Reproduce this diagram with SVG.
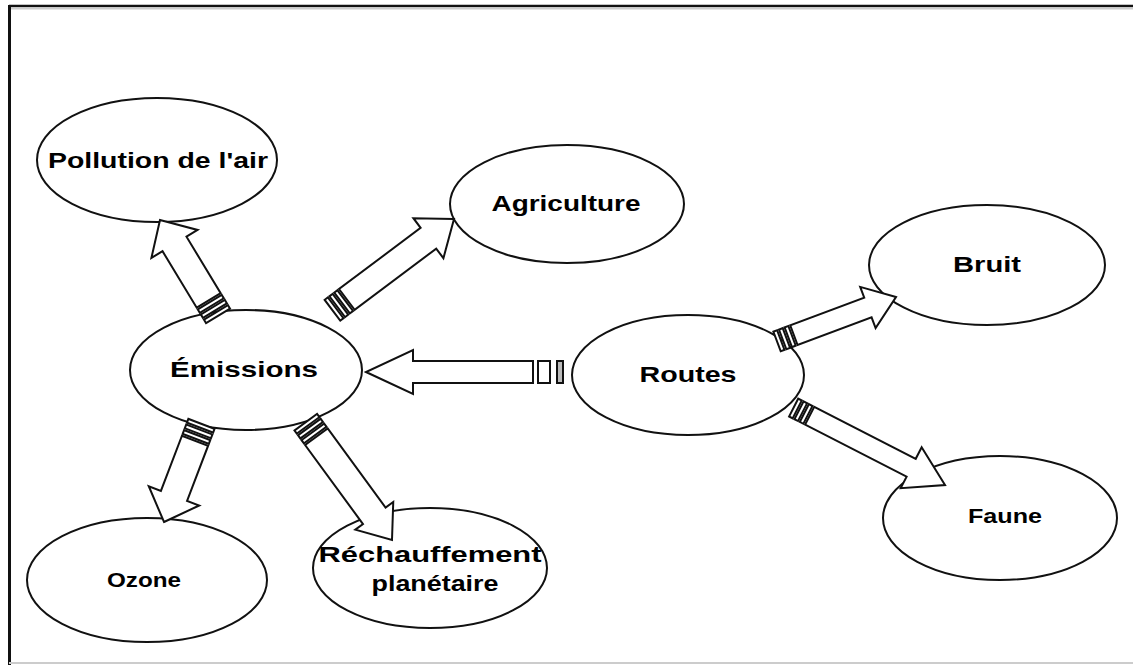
<svg xmlns="http://www.w3.org/2000/svg" width="1133" height="665" viewBox="0 0 1133 665">
<style>
.node ellipse{fill:#fff;stroke:#111;stroke-width:2}
.node text{font-family:"Liberation Sans",Arial,sans-serif;font-weight:bold;font-size:22px;fill:#000;text-anchor:middle}
.node text.s{font-size:21px}
.arr path,.arr rect{fill:#fff;stroke:#111;stroke-width:2;stroke-linejoin:miter}
.arr rect.g{fill:#bbb}
</style>
<rect x="0" y="0" width="1133" height="665" fill="#fff"/>
<g id="frame">
<line x1="9" y1="6" x2="1133" y2="6" stroke="#111" stroke-width="2.5"/>
<line x1="9" y1="8.5" x2="1133" y2="8.5" stroke="#ccc" stroke-width="2"/>
<line x1="9.5" y1="5" x2="9.5" y2="665" stroke="#111" stroke-width="3"/>
<line x1="9" y1="663" x2="1133" y2="663" stroke="#ccc" stroke-width="2"/>
</g>
<g id="node-pollution" class="node"><ellipse cx="157" cy="160" rx="120" ry="62"/><text x="158" y="168" textLength="220" lengthAdjust="spacingAndGlyphs">Pollution de l'air</text></g>
<g id="node-agriculture" class="node"><ellipse cx="567" cy="204" rx="117" ry="59"/><text x="566" y="211" textLength="149" lengthAdjust="spacingAndGlyphs">Agriculture</text></g>
<g id="node-emissions" class="node"><ellipse cx="246" cy="370" rx="116" ry="60"/><text x="244" y="377" textLength="148" lengthAdjust="spacingAndGlyphs">Émissions</text></g>
<g id="node-routes" class="node"><ellipse cx="688" cy="375" rx="116" ry="60"/><text x="688" y="382" textLength="97" lengthAdjust="spacingAndGlyphs">Routes</text></g>
<g id="node-bruit" class="node"><ellipse cx="987" cy="265" rx="118" ry="60"/><text x="987" y="272" textLength="68" lengthAdjust="spacingAndGlyphs">Bruit</text></g>
<g id="node-faune" class="node"><ellipse cx="1000" cy="518" rx="117" ry="62"/><text class="s" x="1005" y="523" textLength="74" lengthAdjust="spacingAndGlyphs">Faune</text></g>
<g id="node-ozone" class="node"><ellipse cx="147" cy="580" rx="120" ry="62"/><text class="s" x="144" y="587" textLength="74" lengthAdjust="spacingAndGlyphs">Ozone</text></g>
<g id="node-rechauffement" class="node"><ellipse cx="430" cy="568" rx="117" ry="60"/><text x="430" y="562" textLength="223" lengthAdjust="spacingAndGlyphs">Réchauffement</text><text x="435" y="591" textLength="127" lengthAdjust="spacingAndGlyphs">planétaire</text></g>
<g id="connectors" class="arr">
<g transform="translate(366,372) rotate(180)"><path d="M0,0 L-47,-22 L-47,-11 L-167,-11 L-167,11 L-47,11 L-47,22 Z"/><rect x="-184" y="-11" width="12" height="22"/><rect class="g" x="-197" y="-11" width="6" height="22"/></g>
<g transform="translate(160,220) rotate(238.8)"><path d="M0,0 L-28,-27 L-28,-14 L-94,-14 L-94,14 L-28,14 L-28,27 Z"/><rect x="-100" y="-14" width="4" height="28"/><rect x="-106" y="-14" width="4" height="28"/><rect x="-112" y="-14" width="4" height="28"/></g>
<g transform="translate(454,219) rotate(-36.9)"><path d="M0,0 L-32,-25 L-32,-13 L-134,-13 L-134,13 L-32,13 L-32,25 Z"/><rect x="-140" y="-13" width="4" height="26"/><rect x="-146" y="-13" width="4" height="26"/><rect x="-152" y="-13" width="4" height="26"/></g>
<g transform="translate(164,522) rotate(110.9)"><path d="M0,0 L-28,-27 L-28,-14 L-87,-14 L-87,14 L-28,14 L-28,27 Z"/><rect x="-93" y="-14" width="4" height="28"/><rect x="-99" y="-14" width="4" height="28"/><rect x="-105" y="-14" width="4" height="28"/></g>
<g transform="translate(392,540) rotate(53.8)"><path d="M0,0 L-30,-23.5 L-30,-14 L-128,-14 L-128,14 L-30,14 L-30,23.5 Z"/><rect x="-134" y="-14" width="4" height="28"/><rect x="-140" y="-14" width="4" height="28"/><rect x="-146" y="-14" width="4" height="28"/></g>
<g transform="translate(896,297) rotate(-20.5)"><path d="M0,0 L-30,-22 L-30,-10.5 L-109,-10.5 L-109,10.5 L-30,10.5 L-30,22 Z"/><rect x="-115" y="-10.5" width="4" height="21"/><rect x="-121" y="-10.5" width="4" height="21"/><rect x="-127" y="-10.5" width="4" height="21"/></g>
<g transform="translate(945,485) rotate(27.1)"><path d="M0,0 L-38,-23 L-38,-10 L-152,-10 L-152,10 L-38,10 L-38,23 Z"/><rect x="-158" y="-10" width="4" height="20"/><rect x="-164" y="-10" width="4" height="20"/><rect x="-170" y="-10" width="4" height="20"/></g>
</g>
</svg>
